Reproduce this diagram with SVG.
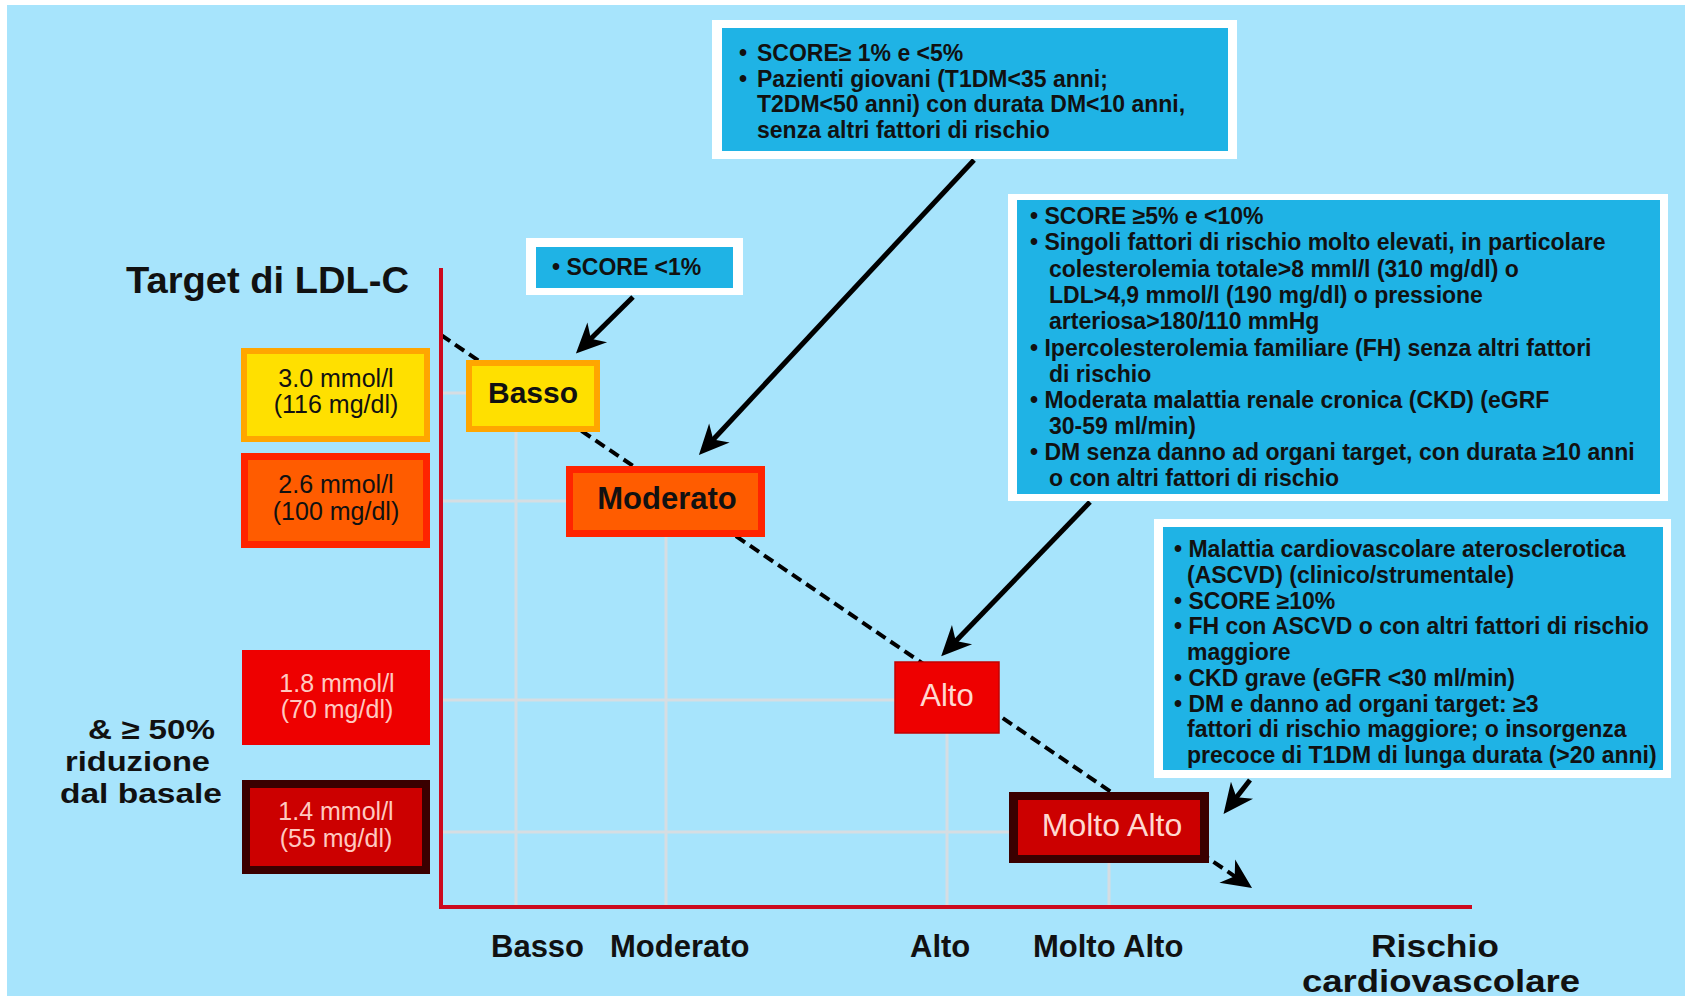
<svg xmlns="http://www.w3.org/2000/svg" width="1689" height="996" viewBox="0 0 1689 996">
  <defs>
    <style>
      .bx { font-family: "Liberation Sans", Arial, sans-serif; font-weight: bold; font-size: 23px; fill: #111; }
      .val { font-family: "Liberation Sans", Arial, sans-serif; font-size: 25px; text-anchor: middle; }
      .lbl { font-family: "Liberation Sans", Arial, sans-serif; font-weight: bold; fill: #111; }
      .grid { stroke: #d6dde2; stroke-width: 3; fill: none; }
      .axis { stroke: #cc0a1e; stroke-width: 4; fill: none; }
      .arrow { stroke: #000; stroke-width: 5; fill: none; marker-end: url(#ah); }
      .dash { stroke: #000; stroke-width: 4; stroke-dasharray: 11 6; fill: none; marker-end: url(#ah); }
      .frame { fill: #ffffff; }
      .panel { fill: #1fb3e5; }
    </style>
    <marker id="ah" markerUnits="userSpaceOnUse" viewBox="-16 -16 36 32" markerWidth="36" markerHeight="32" refX="0" refY="0" orient="auto">
      <path d="M17,0 L-13,-14 L-4,0 L-13,14 Z" fill="#000"/>
    </marker>
  </defs>

  <!-- page background -->
  <rect x="0" y="0" width="1689" height="996" fill="#ffffff"/>
  <rect x="7" y="5" width="1678" height="991" fill="#a7e4fc"/>

  <!-- grid guides -->
  <g id="grid">
    <line class="grid" x1="441" y1="393" x2="466" y2="393"/>
    <line class="grid" x1="441" y1="501" x2="566" y2="501"/>
    <line class="grid" x1="441" y1="700" x2="895" y2="700"/>
    <line class="grid" x1="441" y1="832" x2="1009" y2="832"/>
    <line class="grid" x1="516" y1="432" x2="516" y2="905"/>
    <line class="grid" x1="666" y1="537" x2="666" y2="905"/>
    <line class="grid" x1="947" y1="733" x2="947" y2="905"/>
    <line class="grid" x1="1109" y1="863" x2="1109" y2="905"/>
  </g>

  <!-- connectors -->
  <g id="connectors">
    <line class="dash" x1="441" y1="335" x2="1238" y2="878.5"/>
    <line class="arrow" x1="633" y1="297" x2="588" y2="341.5"/>
    <line class="arrow" x1="974" y1="160" x2="710.5" y2="442.5"/>
    <line class="arrow" x1="1090" y1="502" x2="953" y2="644"/>
    <line class="arrow" x1="1250" y1="780" x2="1234" y2="800.5"/>
  </g>

  <!-- axes -->
  <g id="axes">
    <line class="axis" x1="441" y1="268" x2="441" y2="909"/>
    <line class="axis" x1="439" y1="907" x2="1472" y2="907"/>
  </g>

  <!-- target value boxes -->
  <g id="target-3-0">
    <rect x="241" y="348" width="189" height="94" fill="#ffa600"/>
    <rect x="247" y="354" width="177" height="82" fill="#ffe000"/>
    <text class="val" x="336" y="387" fill="#111">3.0 mmol/l</text>
    <text class="val" x="336" y="413" fill="#111">(116 mg/dl)</text>
  </g>
  <g id="target-2-6">
    <rect x="241" y="453" width="189" height="95" fill="#ff2400"/>
    <rect x="248" y="460" width="175" height="81" fill="#ff5c00"/>
    <text class="val" x="336" y="493" fill="#111">2.6 mmol/l</text>
    <text class="val" x="336" y="520" fill="#111">(100 mg/dl)</text>
  </g>
  <g id="target-1-8">
    <rect x="242" y="650" width="188" height="95" fill="#ee0000"/>
    <text class="val" x="337" y="692" fill="#ffc9c0">1.8 mmol/l</text>
    <text class="val" x="337" y="718" fill="#ffc9c0">(70 mg/dl)</text>
  </g>
  <g id="target-1-4">
    <rect x="242" y="780" width="188" height="94" fill="#3a0000"/>
    <rect x="250" y="788" width="172" height="78" fill="#cc0000"/>
    <text class="val" x="336" y="820" fill="#ffc9c0">1.4 mmol/l</text>
    <text class="val" x="336" y="847" fill="#ffc9c0">(55 mg/dl)</text>
  </g>

  <!-- risk level boxes -->
  <g id="risk-basso">
    <rect x="466" y="360" width="134" height="72" fill="#ffa600"/>
    <rect x="472" y="366" width="122" height="60" fill="#ffe000"/>
    <text class="lbl" x="533" y="403" font-size="30" text-anchor="middle">Basso</text>
  </g>
  <g id="risk-moderato">
    <rect x="566" y="466" width="199" height="71" fill="#ff2400"/>
    <rect x="573" y="473" width="185" height="57" fill="#ff5c00"/>
    <text class="lbl" x="667" y="509" font-size="31" text-anchor="middle">Moderato</text>
  </g>
  <g id="risk-alto">
    <rect x="895" y="662" width="104" height="71" fill="#ee0000" stroke="#c40000" stroke-width="1.5"/>
    <text x="947" y="706" font-family="Liberation Sans, Arial, sans-serif" font-size="31" fill="#ffd8d0" text-anchor="middle">Alto</text>
  </g>
  <g id="risk-molto-alto">
    <rect x="1009" y="792" width="200" height="71" fill="#3a0000"/>
    <rect x="1018" y="800" width="182" height="55" fill="#cc0000"/>
    <text x="1112" y="836" font-family="Liberation Sans, Arial, sans-serif" font-size="32" fill="#ffd8d0" text-anchor="middle">Molto Alto</text>
  </g>

  <!-- criteria panels -->
  <g id="panel-basso">
    <rect class="frame" x="526" y="238" width="217" height="57"/>
    <rect class="panel" x="536" y="247" width="197" height="41"/>
    <text class="bx" x="552" y="275" font-size="24">• SCORE &lt;1%</text>
  </g>

  <g id="panel-moderato">
    <rect class="frame" x="712" y="20" width="525" height="139"/>
    <rect class="panel" x="722" y="28" width="506" height="123"/>
    <text class="bx" x="739" y="61">•</text>
    <text class="bx" x="757" y="61">SCORE≥ 1% e &lt;5%</text>
    <text class="bx" x="739" y="86.5">•</text>
    <text class="bx" x="757" y="86.5">Pazienti giovani (T1DM&lt;35 anni;</text>
    <text class="bx" x="757" y="112">T2DM&lt;50 anni) con durata DM&lt;10 anni,</text>
    <text class="bx" x="757" y="137.5">senza altri fattori di rischio</text>
  </g>

  <g id="panel-alto">
    <rect class="frame" x="1008" y="194" width="660" height="307"/>
    <rect class="panel" x="1017" y="200" width="643" height="294"/>
    <text class="bx" x="1030" y="224">• SCORE ≥5% e &lt;10%</text>
    <text class="bx" x="1030" y="250">• Singoli fattori di rischio molto elevati, in particolare</text>
    <text class="bx" x="1049" y="277">colesterolemia totale&gt;8 mml/l (310 mg/dl) o</text>
    <text class="bx" x="1049" y="303">LDL&gt;4,9 mmol/l (190 mg/dl) o pressione</text>
    <text class="bx" x="1049" y="329">arteriosa&gt;180/110 mmHg</text>
    <text class="bx" x="1030" y="356">• Ipercolesterolemia familiare (FH) senza altri fattori</text>
    <text class="bx" x="1049" y="382">di rischio</text>
    <text class="bx" x="1030" y="408">• Moderata malattia renale cronica (CKD) (eGRF</text>
    <text class="bx" x="1049" y="434">30-59 ml/min)</text>
    <text class="bx" x="1030" y="460">• DM senza danno ad organi target, con durata ≥10 anni</text>
    <text class="bx" x="1049" y="486">o con altri fattori di rischio</text>
  </g>

  <g id="panel-molto-alto">
    <rect class="frame" x="1154" y="519" width="517" height="259"/>
    <rect class="panel" x="1163" y="527" width="500" height="243"/>
    <text class="bx" x="1174" y="557">• Malattia cardiovascolare aterosclerotica</text>
    <text class="bx" x="1187" y="583">(ASCVD) (clinico/strumentale)</text>
    <text class="bx" x="1174" y="609">• SCORE ≥10%</text>
    <text class="bx" x="1174" y="634">• FH con ASCVD o con altri fattori di rischio</text>
    <text class="bx" x="1187" y="660">maggiore</text>
    <text class="bx" x="1174" y="686">• CKD grave (eGFR &lt;30 ml/min)</text>
    <text class="bx" x="1174" y="712">• DM e danno ad organi target: ≥3</text>
    <text class="bx" x="1187" y="737">fattori di rischio maggiore; o insorgenza</text>
    <text class="bx" x="1187" y="763">precoce di T1DM di lunga durata (&gt;20 anni)</text>
  </g>

  <!-- axis titles and labels -->
  <g id="labels">
    <text class="lbl" x="126" y="293" font-size="36" textLength="283" lengthAdjust="spacingAndGlyphs">Target di LDL-C</text>
    <text class="lbl" x="88" y="739" font-size="28" textLength="127" lengthAdjust="spacingAndGlyphs">&amp; ≥ 50%</text>
    <text class="lbl" x="65" y="771" font-size="28" textLength="145" lengthAdjust="spacingAndGlyphs">riduzione</text>
    <text class="lbl" x="60" y="803" font-size="28" textLength="162" lengthAdjust="spacingAndGlyphs">dal basale</text>
    <text class="lbl" x="491" y="957" font-size="31">Basso</text>
    <text class="lbl" x="610" y="957" font-size="31">Moderato</text>
    <text class="lbl" x="910" y="957" font-size="31">Alto</text>
    <text class="lbl" x="1033" y="957" font-size="31">Molto Alto</text>
    <text class="lbl" x="1371" y="957" font-size="31" textLength="128" lengthAdjust="spacingAndGlyphs">Rischio</text>
    <text class="lbl" x="1302" y="992" font-size="31" textLength="278" lengthAdjust="spacingAndGlyphs">cardiovascolare</text>
  </g>
</svg>
